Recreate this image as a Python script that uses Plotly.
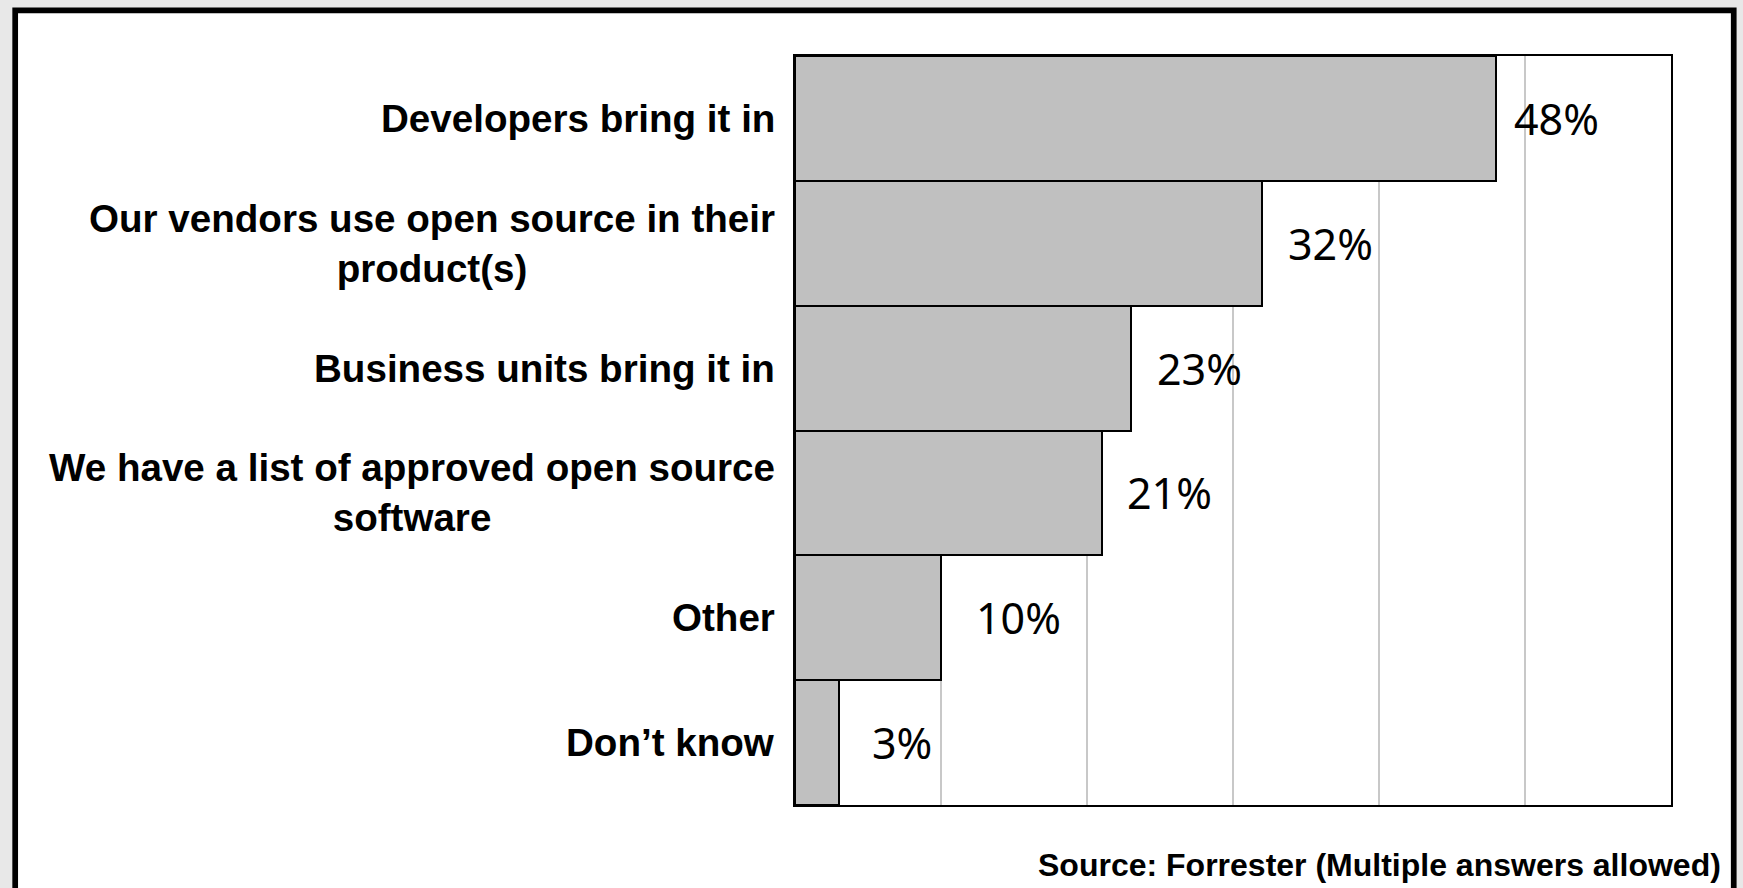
import plotly.graph_objects as go

categories = [
    "Developers bring it in",
    "Our vendors use open source in their<br>product(s)",
    "Business units bring it in",
    "We have a list of approved open source<br>software",
    "Other",
    "Don\u2019t know",
]
values = [48, 32, 23, 21, 10, 3]
value_labels = ["48%", "32%", "23%", "21%", "10%", "3%"]
x_ticks = [0, 10, 20, 30, 40, 50, 60]
source_text = "Source: Forrester (Multiple answers allowed)"

# style: horizontal padding (px) of each value label from its bar end
label_pad = [16, 24, 24, 23, 33, 31]

W, H = 1743, 888
ML, MR, MT, MB = 794.5, 71.5, 55.5, 82.5
PW, PH = W - ML - MR, H - MT - MB


def px_to_paper_x(px):
    return (px - ML) / PW


def px_to_paper_y(py):
    return (H - MB - py) / PH


fig = go.Figure()
fig.add_trace(go.Bar(
    y=categories,
    x=values,
    orientation="h",
    marker=dict(color="#c0c0c0", line=dict(color="#000000", width=2)),
    hoverinfo="skip",
))

annotations = []
for cat in categories:
    annotations.append(dict(
        x=0, xref="paper", y=cat, yref="y",
        text=cat, showarrow=False, xanchor="right", yanchor="middle",
        align="center", xshift=-18,
        font=dict(family="Liberation Sans, Arial, sans-serif", size=38.6,
                  color="#000000", weight=700),
    ))
for cat, v, lab, pad in zip(categories, values, value_labels, label_pad):
    annotations.append(dict(
        x=v, xref="x", y=cat, yref="y",
        text=lab, showarrow=False, xanchor="left", yanchor="middle",
        xshift=pad,
        font=dict(family="Noto Sans, sans-serif", size=43, color="#000000"),
    ))
annotations.append(dict(
    x=px_to_paper_x(1724), xref="paper", y=px_to_paper_y(865.5), yref="paper",
    text=source_text, showarrow=False, xanchor="right", yanchor="middle",
    font=dict(family="Liberation Sans, Arial, sans-serif", size=32,
              color="#000000", weight=700),
))

fig.update_layout(
    width=W, height=H,
    margin=dict(l=ML, r=MR, t=MT, b=MB, pad=0),
    paper_bgcolor="#e8e8e8",
    plot_bgcolor="#ffffff",
    showlegend=False,
    bargap=0,
    annotations=annotations,
    shapes=[dict(
        type="rect", xref="paper", yref="paper", layer="below",
        x0=px_to_paper_x(13.8), x1=px_to_paper_x(1734.3),
        y0=px_to_paper_y(905), y1=px_to_paper_y(9.8),
        line=dict(color="#000000", width=5.7),
        fillcolor="#ffffff",
    )],
    xaxis=dict(
        range=[x_ticks[0], x_ticks[-1]], tickvals=x_ticks, showticklabels=False,
        showgrid=True, gridcolor="#c8c8c8", gridwidth=1.5,
        showline=True, linecolor="#000000", linewidth=2, mirror=True,
        zeroline=False, ticks="", fixedrange=True,
    ),
    yaxis=dict(
        autorange="reversed", showticklabels=False, ticks="",
        showline=True, linecolor="#000000", linewidth=2, mirror=True,
        showgrid=False, zeroline=False, fixedrange=True,
    ),
)

fig.write_html(
    "out.html",
    config={"displayModeBar": False},
    post_script=(
        "document.body.style.margin='0';"
        "document.body.style.padding='0';"
        "document.body.style.overflow='hidden';"
        "document.body.style.background='#e8e8e8';"
    ),
)
